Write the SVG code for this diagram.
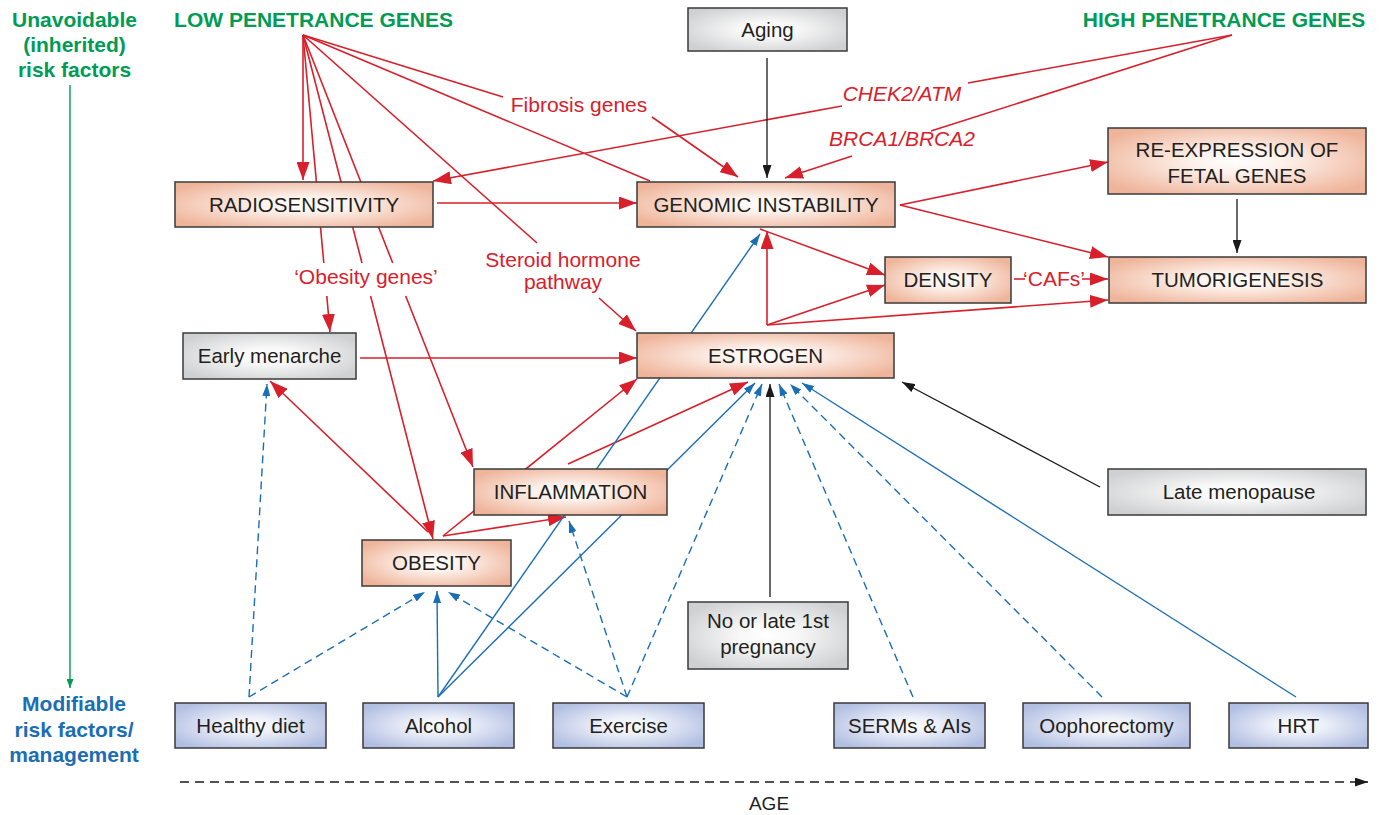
<svg xmlns="http://www.w3.org/2000/svg" width="1381" height="815" viewBox="0 0 1381 815">
<style>
.box{stroke:#3a3a3a;stroke-width:1.5}
.pk{fill:url(#gPink)}
.gy{fill:url(#gGrey)}
.bl{fill:url(#gBlue)}
.t{font-family:"Liberation Sans",Arial,sans-serif;font-size:20.5px;fill:#231f20;text-anchor:middle}
.lr{font-family:"Liberation Sans",Arial,sans-serif;font-size:21px;fill:#d7202b;text-anchor:middle}
.it{font-style:italic}
.hg{font-family:"Liberation Sans",Arial,sans-serif;font-size:21px;font-weight:bold;fill:#009b55;text-anchor:middle}
.hb{font-family:"Liberation Sans",Arial,sans-serif;font-size:21px;font-weight:bold;fill:#1b6db5;text-anchor:middle}
.r{stroke:#d7202b;stroke-width:1.6;fill:none}
.k{stroke:#1a1a1a;stroke-width:1.3;fill:none}
.b{stroke:#1b6db5;stroke-width:1.4;fill:none}
.bd{stroke:#1b6db5;stroke-width:1.4;fill:none;stroke-dasharray:8 5}
.ra{marker-end:url(#aR)}
.ka{marker-end:url(#aK)}
.ba{marker-end:url(#aB)}
</style>
<defs>
<radialGradient id="gPink" cx="50%" cy="50%" r="60%">
<stop offset="0" stop-color="#ffffff"/><stop offset="0.3" stop-color="#fdf1eb"/><stop offset="1" stop-color="#efb59b"/>
</radialGradient>
<radialGradient id="gGrey" cx="50%" cy="50%" r="60%">
<stop offset="0" stop-color="#ffffff"/><stop offset="0.3" stop-color="#f8f8f8"/><stop offset="1" stop-color="#cfd0d2"/>
</radialGradient>
<radialGradient id="gBlue" cx="50%" cy="50%" r="60%">
<stop offset="0" stop-color="#ffffff"/><stop offset="0.3" stop-color="#eef1fa"/><stop offset="1" stop-color="#b2bfe2"/>
</radialGradient>
<marker id="aR" markerUnits="userSpaceOnUse" markerWidth="18" markerHeight="13" refX="18" refY="6.5" orient="auto"><path d="M0,0 L18,6.5 L0,13 z" fill="#d7202b"/></marker>
<marker id="aB" markerUnits="userSpaceOnUse" markerWidth="12" markerHeight="8" refX="12" refY="4" orient="auto"><path d="M0,0 L12,4 L0,8 z" fill="#1b6db5"/></marker>
<marker id="aK" markerUnits="userSpaceOnUse" markerWidth="13" markerHeight="9" refX="13" refY="4.5" orient="auto"><path d="M0,0 L13,4.5 L0,9 z" fill="#1a1a1a"/></marker>
<marker id="aG" markerUnits="userSpaceOnUse" markerWidth="9" markerHeight="7" refX="9" refY="3.5" orient="auto"><path d="M0,0 L9,3.5 L0,7 z" fill="#009b55"/></marker>
</defs>
<rect width="1381" height="815" fill="#ffffff"/>

<g id="connectors">
<!-- low penetrance genes -->
<path class="r ra" d="M303,35 L303,180"/>
<path class="r" d="M303,35 L323.8,263"/><path class="r ra" d="M326.8,296 L330,332"/>
<path class="r" d="M303,35 L362,263"/><path class="r ra" d="M370.6,296 L433,539"/>
<path class="r" d="M303,35 L392.7,263"/><path class="r ra" d="M405.7,296 L473,467"/>
<path class="r" d="M303,35 L537,243"/><path class="r ra" d="M599,298 L636,331"/>
<path class="r" d="M303,35 L503,97"/><path class="r ra" d="M652,117 L738,177"/>
<path class="r" d="M303,35 L650,181"/>
<!-- high penetrance genes -->
<path class="r" d="M1232,35 L968,83"/><path class="r ra" d="M842,106 L433,181"/>
<path class="r" d="M1232,35 L931,131"/><path class="r ra" d="M852,156 L785,178"/>
<!-- red pathway -->
<path class="r ra" d="M437,203 L637,203"/>
<path class="r ra" d="M900,205 L1108,162"/>
<path class="r ra" d="M900,205 L1108,257"/>
<path class="r ra" d="M760,229 L885,275"/>
<path class="r ra" d="M767,325 L767,231"/>
<path class="r ra" d="M767,325 L885,285"/>
<path class="r ra" d="M767,325 L1108,300"/>
<path class="r" d="M1014,279 L1025,279"/><path class="r ra" d="M1082,279 L1108,279"/>
<path class="r ra" d="M360,358 L637,358"/>
<path class="r ra" d="M428,532 L270,381"/>
<path class="r ra" d="M443,536 L566,517"/>
<path class="r ra" d="M443,536 L637,379"/>
<path class="r ra" d="M568,464 L748,382"/>
<!-- black -->
<path class="k ka" d="M767,58 L767,178"/>
<path class="k ka" d="M1237,199 L1237,253"/>
<path class="k ka" d="M770,597 L770,384"/>
<path class="k ka" d="M1100,487 L902,382"/>
<!-- blue solid -->
<path class="b ba" d="M438,697 L437,591"/>
<path class="b ba" d="M438,697 L760,234"/>
<path class="b ba" d="M438,697 L755,383"/>
<path class="b ba" d="M1296,697 L802,383"/>
<!-- blue dashed -->
<path class="bd ba" d="M249,697 L267,384"/>
<path class="bd ba" d="M249,697 L425,592"/>
<path class="bd ba" d="M627,697 L448,592"/>
<path class="bd ba" d="M627,697 L569,521"/>
<path class="bd ba" d="M627,697 L762,384"/>
<path class="bd ba" d="M913,697 L779,384"/>
<path class="bd ba" d="M1102,697 L790,384"/>
<!-- axes -->
<path d="M180,782 L1368,782" stroke="#1a1a1a" stroke-width="1.3" stroke-dasharray="9 6" fill="none" marker-end="url(#aK)"/>
<path d="M70,85 L70,688" stroke="#009b55" stroke-width="1.4" fill="none" marker-end="url(#aG)"/>
</g>

<g id="labels">
<text class="hg" x="74.5" y="27">Unavoidable</text>
<text class="hg" x="74.5" y="52">(inherited)</text>
<text class="hg" x="74.5" y="77">risk factors</text>
<text class="hg" x="313.5" y="27">LOW PENETRANCE GENES</text>
<text class="hg" x="1224" y="27">HIGH PENETRANCE GENES</text>
<text class="hb" x="74" y="711">Modifiable</text>
<text class="hb" x="74" y="737">risk factors/</text>
<text class="hb" x="74" y="762">management</text>
<text class="lr" x="579" y="112">Fibrosis genes</text>
<text class="lr it" x="902" y="101">CHEK2/ATM</text>
<text class="lr it" x="902" y="146">BRCA1/BRCA2</text>
<text class="lr" x="366" y="284">‘Obesity genes’</text>
<text class="lr" x="563" y="267">Steroid hormone</text>
<text class="lr" x="563" y="289">pathway</text>
<text class="lr" x="1054" y="286">‘CAFs’</text>
<text class="t" x="769" y="810" style="font-size:19px">AGE</text>
</g>

<g id="aging"><rect class="box gy" x="688" y="8" width="159" height="43"/><text class="t" x="767.5" y="37">Aging</text></g>
<g id="radiosensitivity"><rect class="box pk" x="175" y="182" width="258" height="45"/><text class="t" x="304" y="212">RADIOSENSITIVITY</text></g>
<g id="genomic-instability"><rect class="box pk" x="637" y="182" width="258" height="45"/><text class="t" x="766" y="212">GENOMIC INSTABILITY</text></g>
<g id="re-expression"><rect class="box pk" x="1108" y="128" width="258" height="66"/><text class="t" x="1237" y="157">RE-EXPRESSION OF</text><text class="t" x="1237" y="183">FETAL GENES</text></g>
<g id="density"><rect class="box pk" x="885" y="257" width="126" height="46"/><text class="t" x="948" y="287">DENSITY</text></g>
<g id="tumorigenesis"><rect class="box pk" x="1109" y="257" width="257" height="46"/><text class="t" x="1237.5" y="287">TUMORIGENESIS</text></g>
<g id="early-menarche"><rect class="box gy" x="183" y="333" width="173" height="46"/><text class="t" x="269.5" y="363">Early menarche</text></g>
<g id="estrogen"><rect class="box pk" x="637" y="333" width="257" height="45"/><text class="t" x="765.5" y="363">ESTROGEN</text></g>
<g id="inflammation"><rect class="box pk" x="474" y="469" width="193" height="46"/><text class="t" x="570.5" y="499">INFLAMMATION</text></g>
<g id="late-menopause"><rect class="box gy" x="1108" y="469" width="258" height="46"/><text class="t" x="1239" y="499">Late menopause</text></g>
<g id="obesity"><rect class="box pk" x="362" y="540" width="149" height="46"/><text class="t" x="436.5" y="570">OBESITY</text></g>
<g id="pregnancy"><rect class="box gy" x="688" y="602" width="160" height="67"/><text class="t" x="768" y="628">No or late 1st</text><text class="t" x="768" y="654">pregnancy</text></g>
<g id="healthy-diet"><rect class="box bl" x="175" y="703" width="151" height="45"/><text class="t" x="250.5" y="733">Healthy diet</text></g>
<g id="alcohol"><rect class="box bl" x="363" y="703" width="151" height="45"/><text class="t" x="438.5" y="733">Alcohol</text></g>
<g id="exercise"><rect class="box bl" x="553" y="703" width="151" height="45"/><text class="t" x="628.5" y="733">Exercise</text></g>
<g id="serms"><rect class="box bl" x="834" y="703" width="151" height="45"/><text class="t" x="909.5" y="733">SERMs &amp; AIs</text></g>
<g id="oophorectomy"><rect class="box bl" x="1023" y="703" width="167" height="45"/><text class="t" x="1106.5" y="733">Oophorectomy</text></g>
<g id="hrt"><rect class="box bl" x="1229" y="703" width="139" height="45"/><text class="t" x="1298.5" y="733">HRT</text></g>
</svg>
